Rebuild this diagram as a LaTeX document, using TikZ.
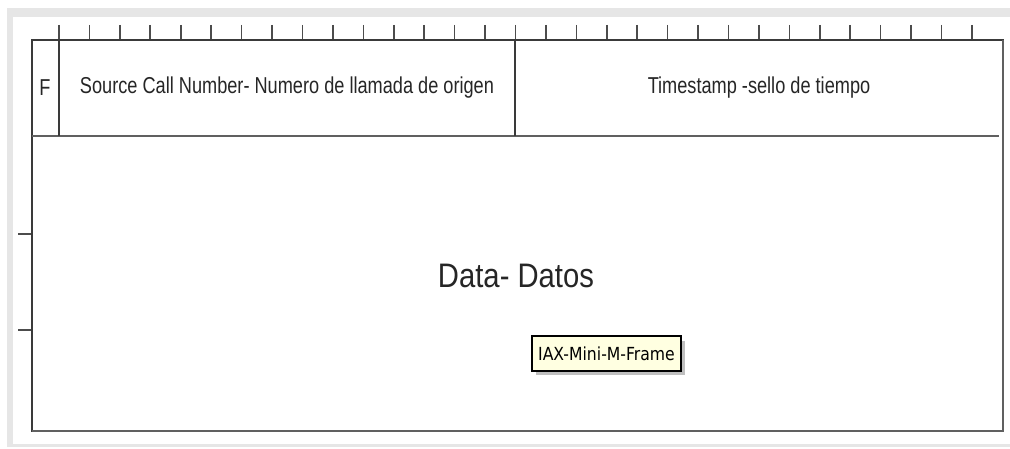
\documentclass[tikz,border=0pt]{standalone}
\usepackage{fontspec}
\usepackage{xcolor}
\newfontfamily\fieldfont[FakeStretch=0.79]{Liberation Sans}
\newfontfamily\datafont[FakeStretch=0.86]{Liberation Sans}
\newfontfamily\tipfont[FakeStretch=0.87]{DejaVu Sans}
\definecolor{framegray}{HTML}{E6E6E6}
\definecolor{linegray}{HTML}{3A3A3A}
\definecolor{tipyellow}{HTML}{FFFFE1}

\begin{document}
\begin{tikzpicture}[x=1pt,y=-1pt,
    border/.style={draw=linegray, line width=1.6pt},
    divider/.style={draw=gray!75!black, line width=2.6pt},
    tick/.style={draw=gray!60!black, line width=1.6pt},
    field/.style={font=\fieldfont\fontsize{23}{25}\selectfont, text=black!85, inner sep=0pt},
    tipbox/.style={draw=black, line width=1.2pt, fill=tipyellow, font=\tipfont\fontsize{18}{20}\selectfont, minimum width=149pt, minimum height=35pt, inner sep=0pt}]
    \useasboundingbox (0,0) rectangle (1010,449);
    % fond et cadre gris
    \fill[white] (0,0) rectangle (1010,449);
    \fill[framegray] (7,8) rectangle (1010,17);
    \fill[framegray] (7,8) rectangle (13,447);
    \fill[framegray] (7,444) rectangle (1010,447);
    % graduations
    \foreach \i in {0,...,30}
        \draw[tick] ({59+30.43*\i},25) -- ++(0,15);
    \foreach \y in {234,330}
        \draw[tick] (18,\y) -- ++(14,0);
    % la trame
    \coordinate (nw) at (32,40);
    \coordinate (se) at (1003,431);
    \draw[border] (nw) rectangle (se);
    \draw[divider] (32,431) -- (se) -- (1003,40);
    \draw[divider] (32,136) -- (999,136);
    \draw[border] (59,40) -- (59,136);
    \draw[border] (515,40) -- (515,136);
    % les champs
    \node[field] (flag) at (45,88) {F};
    \node[field] (source) at (287,88) {Source Call Number- Numero de llamada de origen};
    \node[field] (stamp) at (759,88) {Timestamp -sello de tiempo};
    \node[font=\datafont\fontsize{34}{36}\selectfont, text=black!85, inner sep=0pt] (data) at (516,276) {Data- Datos};
    % info-bulle
    \fill[black!25] (536,341) rectangle (685,375);
    \node[tipbox] (tip) at (606.5,353.5) {IAX-Mini-M-Frame};
\end{tikzpicture}
\end{document}
